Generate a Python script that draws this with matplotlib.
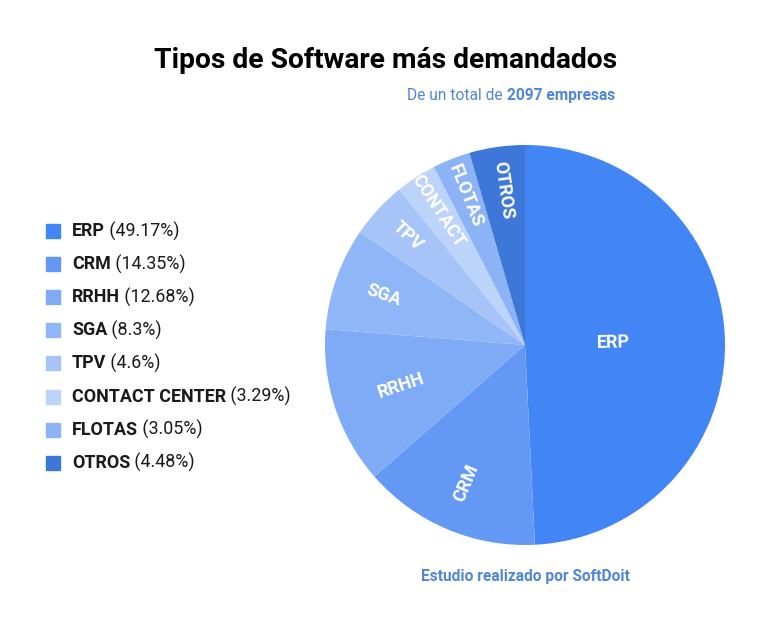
import matplotlib.pyplot as plt
from matplotlib.patches import Rectangle
import numpy as np

plt.rcParams['font.family'] = ['Roboto', 'DejaVu Sans']

categories = ['ERP', 'CRM', 'RRHH', 'SGA', 'TPV', 'CONTACT CENTER', 'FLOTAS', 'OTROS']
slice_labels = ['ERP', 'CRM', 'RRHH', 'SGA', 'TPV', 'CONTACT', 'FLOTAS', 'OTROS']
percentages = [49.17, 14.35, 12.68, 8.3, 4.6, 3.29, 3.05, 4.48]
colors = ['#4285f4', '#6399f5', '#7eaaf6', '#8fb6f7', '#a6c4f8', '#bcd3fa', '#8cb3f6', '#3d78d8']
label_radius = [0.44, 0.75, 0.65, 0.75, 0.8, 0.8, 0.8, 0.78]

fig = plt.figure(figsize=(7.68, 6.34), dpi=100)
ax = fig.add_axes([0.4232, 0.1404, 0.5208, 0.6309])
wedges, _ = ax.pie(percentages, colors=colors, startangle=90, counterclock=False,
                   wedgeprops=dict(linewidth=0))
ax.set_xlim(-1, 1)
ax.set_ylim(-1, 1)
ax.set_aspect('equal')

# etiquetas dentro del pastel, giradas en sentido radial
for w, lab, r in zip(wedges, slice_labels, label_radius):
    ang = (w.theta1 + w.theta2) / 2
    x = r * np.cos(np.radians(ang))
    y = r * np.sin(np.radians(ang))
    rot = ang if -90 <= ang <= 90 else ang - 180
    if ang > 180:
        rot = ang - 360 if ang - 360 >= -90 else ang - 180
    ax.text(x, y, lab, color='white', fontsize=13, fontweight='bold',
            rotation=rot, rotation_mode='anchor', ha='center', va='center')

fig.text(0.502, 0.905, 'Tipos de Software más demandados', ha='center', va='center',
         fontsize=20.3, fontweight='bold', color='black')

fig.canvas.draw()
renderer = fig.canvas.get_renderer()

sub_color = '#4f86d6'
t_bold = fig.text(0.801, 0.850, '2097 empresas', ha='right', va='center',
                  fontsize=11.2, fontweight='bold', color=sub_color)
bb = t_bold.get_window_extent(renderer)
fig.text(bb.x0 / fig.bbox.width, 0.850, 'De un total de ', ha='right', va='center',
         fontsize=11.2, color=sub_color)

fig.text(0.684, 0.090, 'Estudio realizado por SoftDoit', ha='center', va='center',
         fontsize=11.2, fontweight='bold', color=sub_color)

# leyenda manual
W, H = fig.bbox.width, fig.bbox.height
y0 = 231
for i, (cat, pct, c) in enumerate(zip(categories, percentages, colors)):
    ypx = y0 + i * 33.1
    yf = 1 - ypx / H
    fig.patches.append(Rectangle((46 / W, yf - 7 / H), 14 / W, 14 / H,
                                 transform=fig.transFigure, color=c))
    t = fig.text(72 / W, yf, cat, ha='left', va='center', fontsize=12.9,
                 fontweight='bold', color='#1a1a1a')
    bb = t.get_window_extent(renderer)
    fig.text(bb.x1 / W, yf, ' (%s%%)' % ('%g' % pct), ha='left', va='center',
             fontsize=12.9, color='#1a1a1a')

fig.savefig('out.png', dpi=100)
